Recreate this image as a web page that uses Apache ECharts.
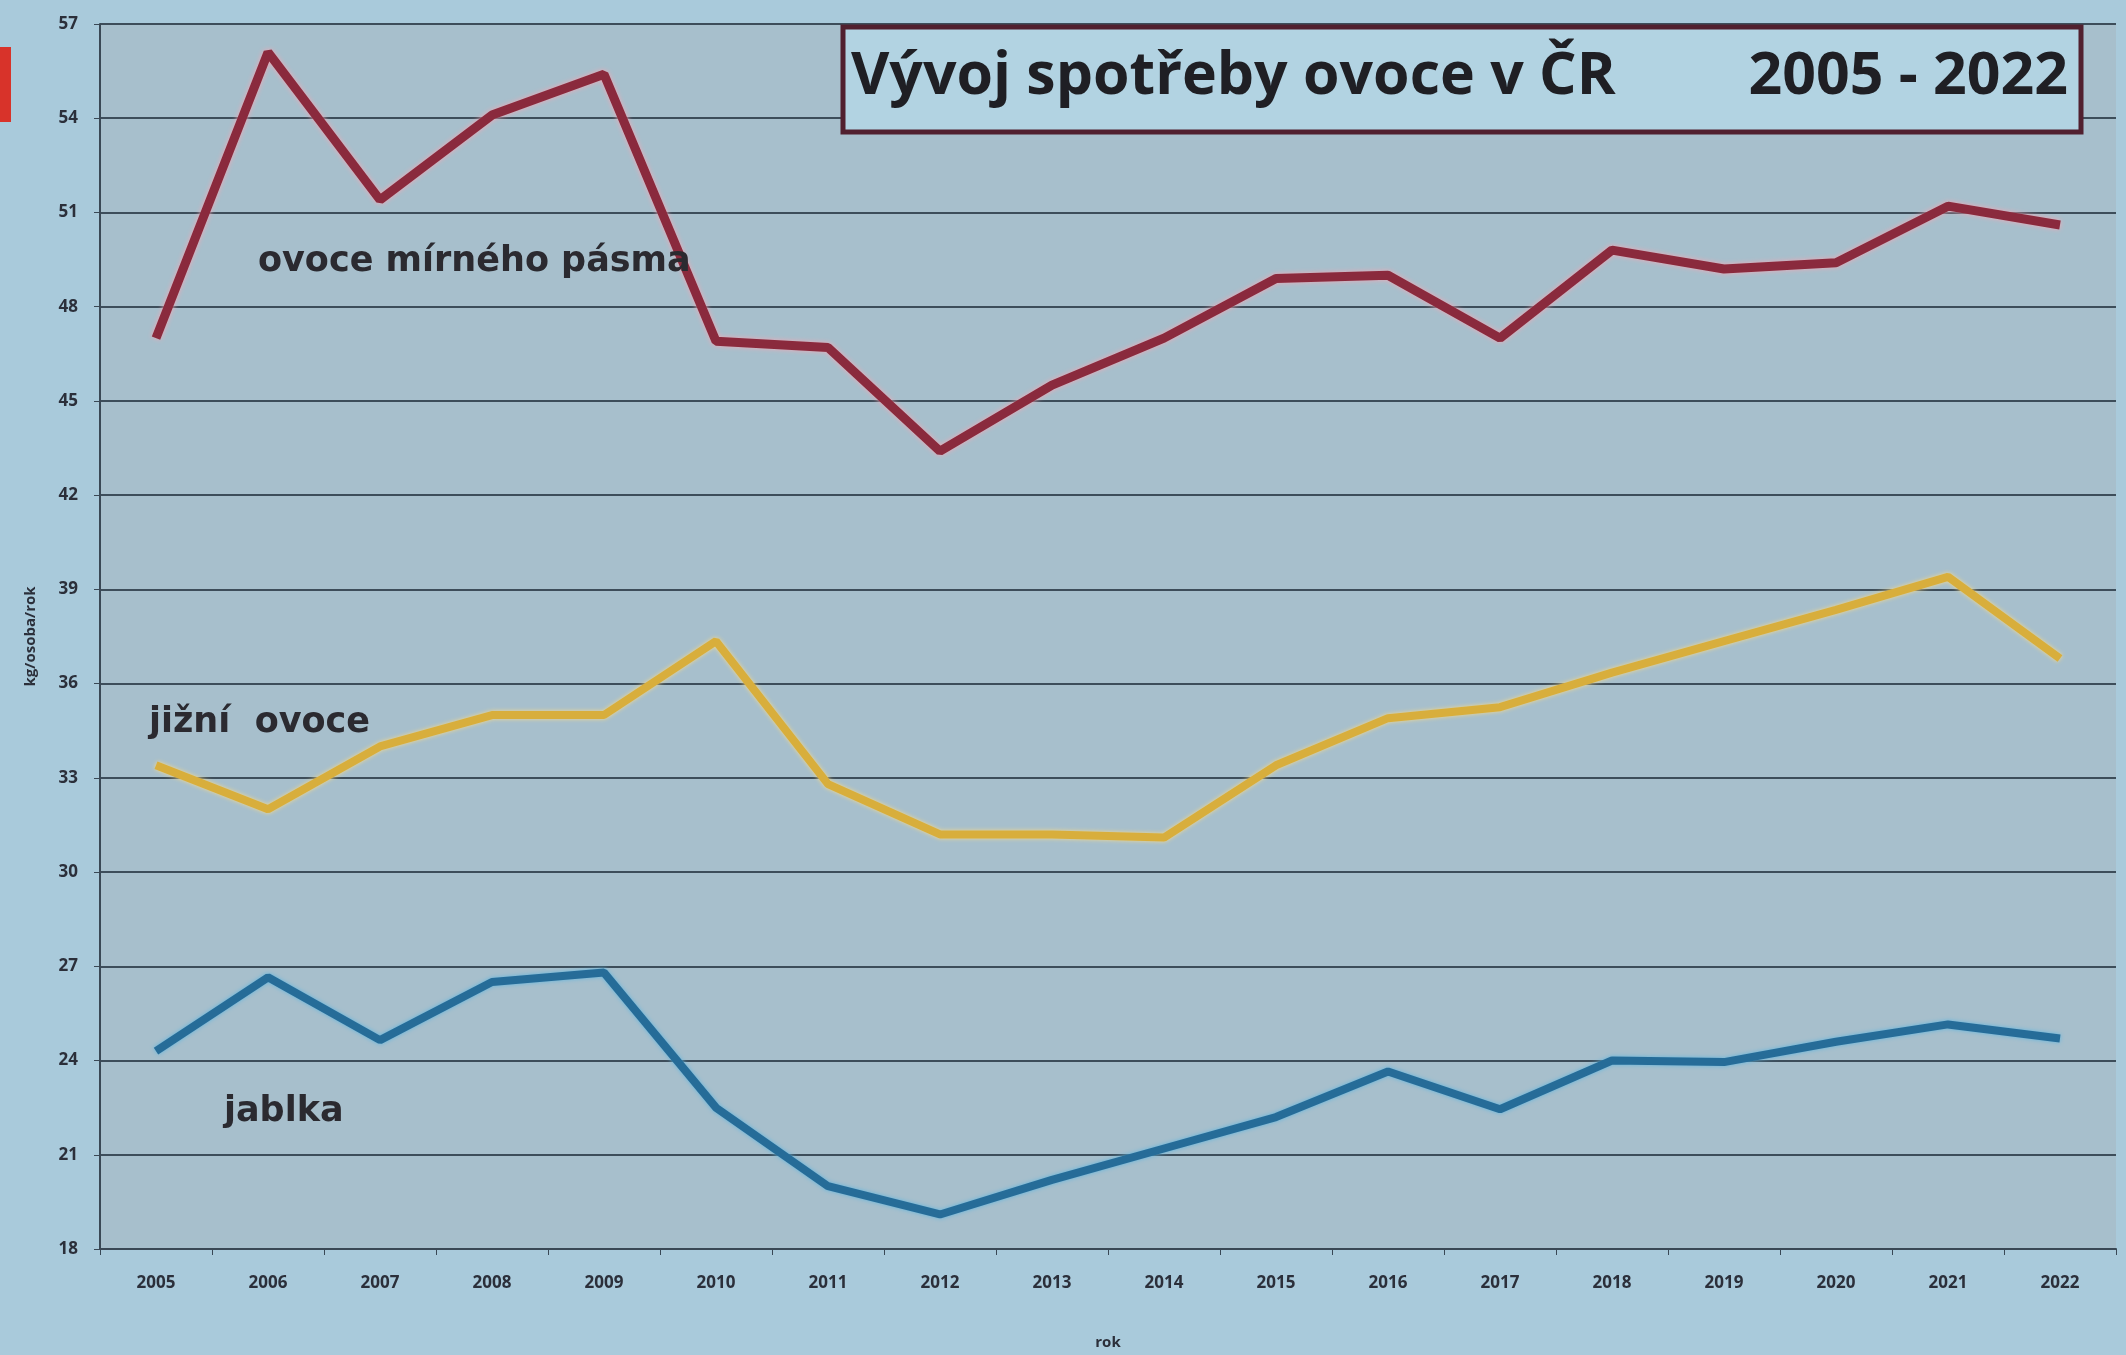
<!DOCTYPE html>
<html>
<head>
<meta charset="utf-8">
<style>
  html, body { margin: 0; padding: 0; background: #a9cadb; }
  #main { width: 2126px; height: 1355px; }
</style>
<script src="https://cdn.jsdelivr.net/npm/echarts@6/dist/echarts.min.js"></script>
</head>
<body>
<div id="main"></div>
<script>
var roky = ['2005', '2006', '2007', '2008', '2009', '2010', '2011', '2012', '2013',
    '2014', '2015', '2016', '2017', '2018', '2019', '2020', '2021', '2022'];

// kg/osoba/rok
var ovoceMirne = [47.0, 56.1, 51.4, 54.1, 55.4, 46.9, 46.7, 43.4, 45.5,
    47.0, 48.9, 49.0, 47.0, 49.8, 49.2, 49.4, 51.2, 50.6];
var jizniOvoce = [33.4, 32.0, 34.0, 35.0, 35.0, 37.35, 32.8, 31.2, 31.2,
    31.1, 33.4, 34.9, 35.25, 36.35, 37.35, 38.35, 39.4, 36.8];
var jablka = [24.3, 26.65, 24.65, 26.5, 26.8, 22.5, 20.0, 19.1, 20.2,
    21.2, 22.2, 23.65, 22.45, 24.0, 23.95, 24.6, 25.15, 24.7];

var yMin = 18, yMax = 57, yStep = 3;

var myChart = echarts.init(document.getElementById('main'));

var labelFont = {
    fontFamily: 'DejaVu Sans',
    fontWeight: 'bold',
    fontSize: 35,
    fill: '#2b2a30'
};

var titleStyle = {
    fontFamily: 'Open Sans',
    fontWeight: 'bold',
    fontSize: 59,
    lineHeight: 66,
    color: '#1f1f24'
};

myChart.setOption({
    backgroundColor: '#a9cadb',
    textStyle: { fontFamily: 'Open Sans' },
    title: [{
        text: 'Vývoj spotřeby ovoce v ČR',
        left: 851,
        top: 44,
        padding: 0,
        z: 10,
        textStyle: titleStyle
    }, {
        text: '2005 - 2022',
        right: 58,
        top: 44,
        padding: 0,
        z: 10,
        textStyle: titleStyle
    }],
    grid: {
        show: true,
        left: 100,
        right: 10,
        top: 24,
        bottom: 106,
        backgroundColor: '#a7bfcc',
        borderWidth: 0
    },
    xAxis: {
        type: 'category',
        data: roky,
        boundaryGap: true,
        name: 'rok',
        nameLocation: 'middle',
        nameGap: 86,
        nameTextStyle: { fontSize: 15, fontWeight: 'bold', color: '#2b2f3a' },
        axisLine: { lineStyle: { color: '#3a4855', width: 2 } },
        axisTick: { show: true, length: 6, lineStyle: { color: '#3a4855' } },
        axisLabel: {
            margin: 26,
            fontSize: 17,
            fontWeight: 'bold',
            color: '#2b2f3a'
        }
    },
    yAxis: {
        type: 'value',
        min: yMin,
        max: yMax,
        interval: yStep,
        name: 'kg/osoba/rok',
        nameLocation: 'middle',
        nameRotate: 90,
        nameGap: 62,
        nameTextStyle: { fontSize: 15, fontWeight: 'bold', color: '#2b2f3a' },
        axisLine: { show: true, lineStyle: { color: '#3a4855', width: 2 } },
        axisTick: { show: true, length: 6, lineStyle: { color: '#3a4855' } },
        axisLabel: {
            margin: 22,
            fontSize: 17,
            fontWeight: 'bold',
            color: '#2b2f3a'
        },
        splitLine: { lineStyle: { color: '#3d4d5a', width: 2 } }
    },
    series: [{
        name: 'ovoce mírného pásma',
        type: 'line',
        data: ovoceMirne,
        symbol: 'none',
        lineStyle: {
            color: '#8a2a3d',
            width: 9,
            shadowColor: '#f3a7b4',
            shadowBlur: 5
        }
    }, {
        name: 'jižní ovoce',
        type: 'line',
        data: jizniOvoce,
        symbol: 'none',
        lineStyle: {
            color: '#d8ae3c',
            width: 8,
            shadowColor: '#f5d98a',
            shadowBlur: 4
        }
    }, {
        name: 'jablka',
        type: 'line',
        data: jablka,
        symbol: 'none',
        lineStyle: {
            color: '#266c98',
            width: 8,
            shadowColor: '#5fb6e0',
            shadowBlur: 4
        }
    }],
    graphic: [{
        type: 'rect',
        shape: { x: 0, y: 47, width: 11, height: 75 },
        style: { fill: '#d8332a' },
        z: 5
    }, {
        type: 'rect',
        shape: { x: 843, y: 27, width: 1238, height: 105 },
        style: { fill: '#b2d3e2', stroke: '#51202f', lineWidth: 5 },
        z: 5
    }, {
        type: 'text',
        x: 258, y: 262,
        style: Object.assign({ text: 'ovoce mírného pásma', verticalAlign: 'middle' }, labelFont),
        z: 6
    }, {
        type: 'text',
        x: 149, y: 723,
        style: Object.assign({ text: 'jižní  ovoce', verticalAlign: 'middle' }, labelFont),
        z: 6
    }, {
        type: 'text',
        x: 224, y: 1112,
        style: Object.assign({ text: 'jablka', verticalAlign: 'middle' }, labelFont),
        z: 6
    }]
});
</script>
</body>
</html>
